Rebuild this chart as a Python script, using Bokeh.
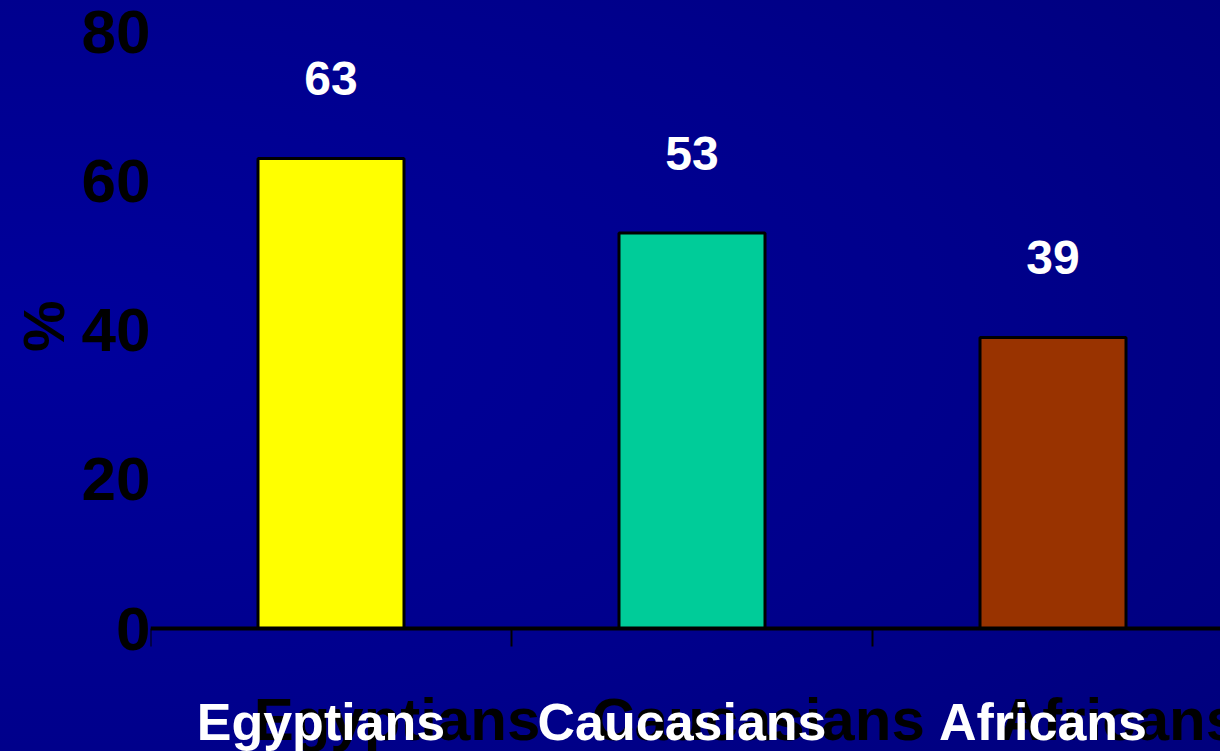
from bokeh.plotting import figure
from bokeh.models import Range1d, FixedTicker, Span, ColumnDataSource, Title
from bokeh.core.properties import value
from bokeh.embed import file_html
from bokeh.resources import INLINE

# Share of patients (%) per population group
groups = ["Egyptians", "Caucasians", "Africans"]
percent = [63, 53, 39]
bar_colors = ["#FFFF00", "#00CC99", "#993300"]
y_ticks = [0, 20, 40, 60, 80]

FONT = "Liberation Sans"
W, H = 1220, 751
LEFT = 150            # room for the value axis
BASE_PX = 628         # pixel row of the zero line
PX_PER_UNIT = 7.46    # vertical scale, pixels per percent
SLOT_PX = 361         # horizontal width of one group slot
TICK_PX = 18          # length of the slot separator ticks

x_end = (W - LEFT) / SLOT_PX
y_top = BASE_PX / PX_PER_UNIT
y_bottom = -(H - BASE_PX) / PX_PER_UNIT

centers = [i + 0.5 for i in range(len(groups))]
edges = [float(i) for i in range(len(groups))]

src = ColumnDataSource(dict(
    x=centers,
    top=percent,
    color=bar_colors,
    label=[str(v) for v in percent],
    name=groups,
))

p = figure(
    width=W, height=H,
    output_backend="svg", toolbar_location=None,
    x_range=Range1d(0, x_end), y_range=Range1d(y_bottom, y_top),
    x_axis_location=None,
    min_border_left=LEFT, min_border_right=0,
    min_border_top=0, min_border_bottom=0,
)

p.background_fill_color = None
p.border_fill_color = None
p.outline_line_color = None
p.styles = {
    "background": "radial-gradient(ellipse 130% 95% at 5% 45%, "
                  "#00009c 0%, #00008c 55%, #00007a 100%)"
}
p.grid.visible = False

# bars
p.vbar(x="x", top="top", bottom=0, width=146 / SLOT_PX, source=src,
       fill_color="color", line_color="black", line_width=3)

# zero line and slot separator ticks
p.add_layout(Span(location=0, dimension="width", line_color="black", line_width=4))
p.segment(x0=edges, y0=[0.0] * len(edges), x1=edges,
          y1=[-TICK_PX / PX_PER_UNIT] * len(edges),
          line_color="black", line_width=2)

# value labels above the bars
p.text(x="x", y="top", text="label", source=src,
       text_color="white", text_font=value(FONT), text_font_style="bold",
       text_font_size="48px", text_align="center", text_baseline="middle",
       y_offset=-80)

# group names: large dark copy behind, white copy in front
p.text(x="x", y=0, text="name", source=src,
       text_color="black", text_font=value(FONT), text_font_style="bold",
       text_font_size="60px", text_align="center", text_baseline="alphabetic",
       x_offset=66, y_offset=91)
p.text(x="x", y=0, text="name", source=src,
       text_color="white", text_font=value(FONT), text_font_style="bold",
       text_font_size="52px", text_align="center", text_baseline="alphabetic",
       x_offset=-10, y_offset=93)

# value axis
ax = p.yaxis[0]
ax.ticker = FixedTicker(ticks=y_ticks)
ax.axis_line_color = None
ax.major_tick_line_color = None
ax.minor_tick_line_color = None
ax.major_tick_in = 0
ax.major_tick_out = 0
ax.major_label_standoff = 0
ax.major_label_text_font = FONT
ax.major_label_text_font_style = "bold"
ax.major_label_text_font_size = "62px"
ax.major_label_text_color = "black"

# axis title on the left side, level with the 40 % mark
p.add_layout(Title(
    text="%", align="right", offset=300, standoff=6,
    text_font=FONT, text_font_style="bold", text_font_size="58px",
    text_color="black",
), "left")

open("out.html", "w").write(file_html(p, INLINE))
